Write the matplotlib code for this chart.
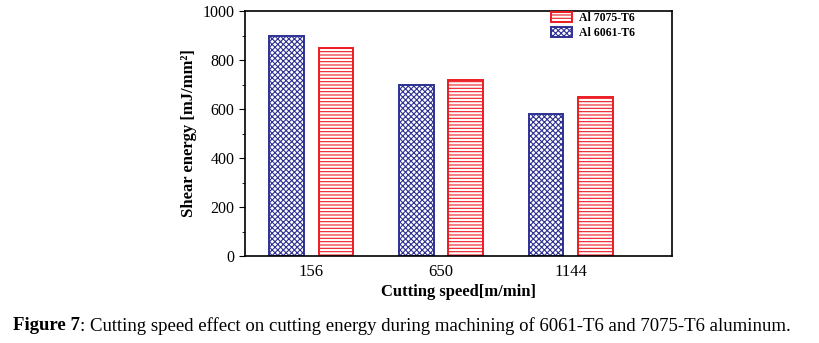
import matplotlib
matplotlib.use("Agg")
import matplotlib.pyplot as plt
import numpy as np
from matplotlib.ticker import MultipleLocator

categories = ["156", "650", "1144"]
al6061 = [900, 700, 580]
al7075 = [850, 720, 650]

plt.rcParams['font.family'] = ['Liberation Serif', 'DejaVu Serif']
plt.rcParams['hatch.linewidth'] = 0.8

fig = plt.figure(figsize=(8.19, 3.43), dpi=100)
ax = fig.add_axes([245/819, 1-256/343, (672-245)/819, (256-11)/343])

x = np.arange(len(categories))
w = 0.265
off = 0.19
blue = '#2e3192'
red = '#ed1c24'
ax.bar(x - off, al6061, width=w, facecolor='white', edgecolor=blue, hatch='xxxxxx', linewidth=1.4, label='Al 6061-T6')
ax.bar(x + off, al7075, width=w, facecolor='white', edgecolor=red, hatch='-----', linewidth=1.4, label='Al 7075-T6')

ax.set_xlim(-0.51, 2.78)
ax.set_ylim(0, 1000)
ax.set_xticks(x)
ax.set_xticklabels(categories, fontsize=12)
ax.yaxis.set_major_locator(MultipleLocator(200))
ax.yaxis.set_minor_locator(MultipleLocator(100))
ax.tick_params(axis='y', labelsize=11.5, direction='out', length=4)
ax.tick_params(axis='y', which='minor', length=2)
ax.tick_params(axis='x', length=0, pad=6)
for s in ax.spines.values():
    s.set_linewidth(1.2)
ax.set_ylabel('Shear energy [mJ/mm²]', fontsize=12, fontweight='bold', labelpad=4)
ax.set_xlabel('Cutting speed[m/min]', fontsize=12, fontweight='bold', labelpad=3)

h, l = ax.get_legend_handles_labels()
leg = ax.legend(h[::-1], l[::-1], loc='upper right', bbox_to_anchor=(0.925, 1.015), frameon=False,
                prop={'size': 8.5, 'weight': 'bold'},
                handlelength=1.8, handleheight=0.9, borderaxespad=0.0, labelspacing=0.25, handletextpad=0.6)

t1 = fig.text(13/819, 1-326/343, 'Figure 7', fontsize=13.5, va='center', ha='left', fontweight='bold')
fig.canvas.draw()
bb = t1.get_window_extent()
fig.text(bb.x1/819, 1-326/343, ': Cutting speed effect on cutting energy during machining of 6061-T6 and 7075-T6 aluminum.',
         fontsize=13.5, va='center', ha='left')

fig.savefig('out.png', dpi=100)
